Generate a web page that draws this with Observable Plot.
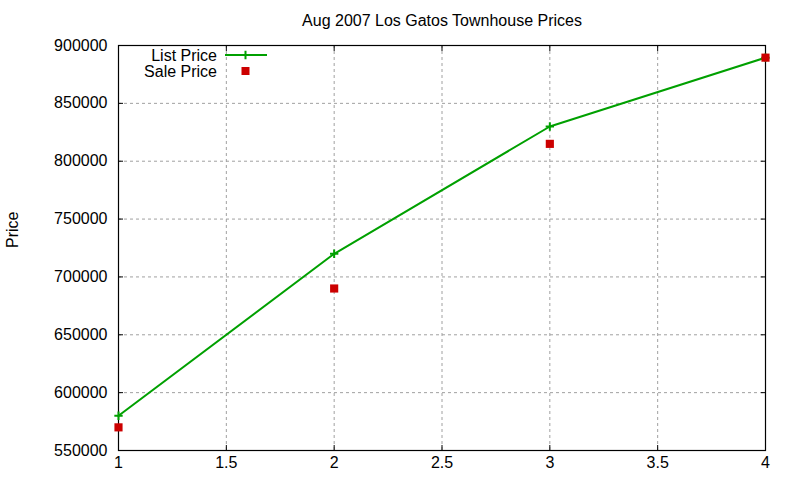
<!DOCTYPE html>
<html>
<head>
<meta charset="utf-8">
<script src="https://cdn.jsdelivr.net/npm/d3@7"></script>
<script src="https://cdn.jsdelivr.net/npm/@observablehq/plot@0.6"></script>
<style>
  html, body { margin: 0; padding: 0; background: white; }
  #wrap { position: relative; width: 800px; height: 480px; font-family: "Liberation Sans", Arial, sans-serif; }
  #legend { position: absolute; left: 0; top: 0; pointer-events: none; }
</style>
</head>
<body>
<div id="wrap"></div>
<script>
const title = "Aug 2007 Los Gatos Townhouse Prices";
const yLabel = "Price";
const homes = [1, 2, 3, 4];
const listPrice = [580000, 720000, 830000, 889500];
const salePrice = [570000, 690000, 815000, 889500];
const seriesNames = ["List Price", "Sale Price"];
const xTicks = [1, 1.5, 2, 2.5, 3, 3.5, 4];
const yTicks = [550000, 600000, 650000, 700000, 750000, 800000, 850000, 900000];

const green = "#00a000";
const red = "#cc0000";
const fs = 16;

const listData = homes.map((h, i) => ({x: h, y: listPrice[i]}));
const saleData = homes.map((h, i) => ({x: h, y: salePrice[i]}));

const chart = Plot.plot({
  width: 800,
  height: 480,
  marginLeft: 118,
  marginRight: 35,
  marginTop: 45,
  marginBottom: 30,
  style: {fontFamily: "'Liberation Sans', Arial, sans-serif", fontSize: fs + "px", background: "white", color: "black"},
  x: {domain: [1, 4], ticks: xTicks},
  y: {domain: [550000, 900000], ticks: yTicks},
  marks: [
    Plot.gridX(xTicks, {stroke: "#a0a0a0", strokeOpacity: 1, strokeDasharray: "3,3"}),
    Plot.gridY(yTicks, {stroke: "#a0a0a0", strokeOpacity: 1, strokeDasharray: "3,3"}),
    Plot.axisX(xTicks, {anchor: "bottom", tickSize: -5, tickPadding: 11, tickFormat: d => String(d), label: null, fontSize: fs}),
    Plot.axisX(xTicks, {anchor: "top", tickSize: -5, tickFormat: () => "", label: null}),
    Plot.axisY(yTicks, {anchor: "left", tickSize: -5, tickPadding: 16, tickFormat: d => String(d), label: null, fontSize: fs}),
    Plot.axisY(yTicks, {anchor: "right", tickSize: -5, tickFormat: () => "", label: null}),
    Plot.frame({stroke: "black", strokeWidth: 1.2}),
    Plot.line(listData, {x: "x", y: "y", stroke: green, strokeWidth: 2}),
    Plot.dot(listData, {x: "x", y: "y", symbol: "plus", r: 2.8, stroke: green, strokeWidth: 2}),
    Plot.dot(saleData, {x: "x", y: "y", symbol: "square", r: 4.6, fill: red, stroke: "none"}),
    Plot.text([title], {text: d => d, frameAnchor: "top", dy: -31, fontSize: fs, fill: "black"}),
    Plot.text([yLabel], {text: d => d, frameAnchor: "left", dx: -106, rotate: -90, fontSize: fs, fill: "black"})
  ]
});

const wrap = document.getElementById("wrap");
wrap.appendChild(chart);

// Legend (inside plot area, top-left), gnuplot style
const legend = d3.select(wrap).append("svg")
  .attr("id", "legend")
  .attr("width", 800).attr("height", 480)
  .style("font-family", "'Liberation Sans', Arial, sans-serif")
  .style("font-size", fs + "px");
const rows = [
  {name: seriesNames[0], kind: "line", color: green},
  {name: seriesNames[1], kind: "point", color: red}
];
rows.forEach((r, i) => {
  const cy = 55 + i * 16;
  legend.append("text").attr("x", 217).attr("y", cy).attr("dy", "0.35em")
    .attr("text-anchor", "end").attr("fill", "black").text(r.name);
  if (r.kind === "line") {
    legend.append("line").attr("x1", 225).attr("x2", 267).attr("y1", cy).attr("y2", cy)
      .attr("stroke", r.color).attr("stroke-width", 2);
    legend.append("path").attr("d", d3.symbol(d3.symbolPlus, Math.PI * 2.8 * 2.8)()).attr("transform", `translate(245.5,${cy})`)
      .attr("stroke", r.color).attr("stroke-width", 2).attr("fill", "none");
  } else {
    legend.append("rect").attr("x", 245.5 - 4).attr("y", cy - 4).attr("width", 8).attr("height", 8)
      .attr("fill", r.color);
  }
});
</script>
</body>
</html>
